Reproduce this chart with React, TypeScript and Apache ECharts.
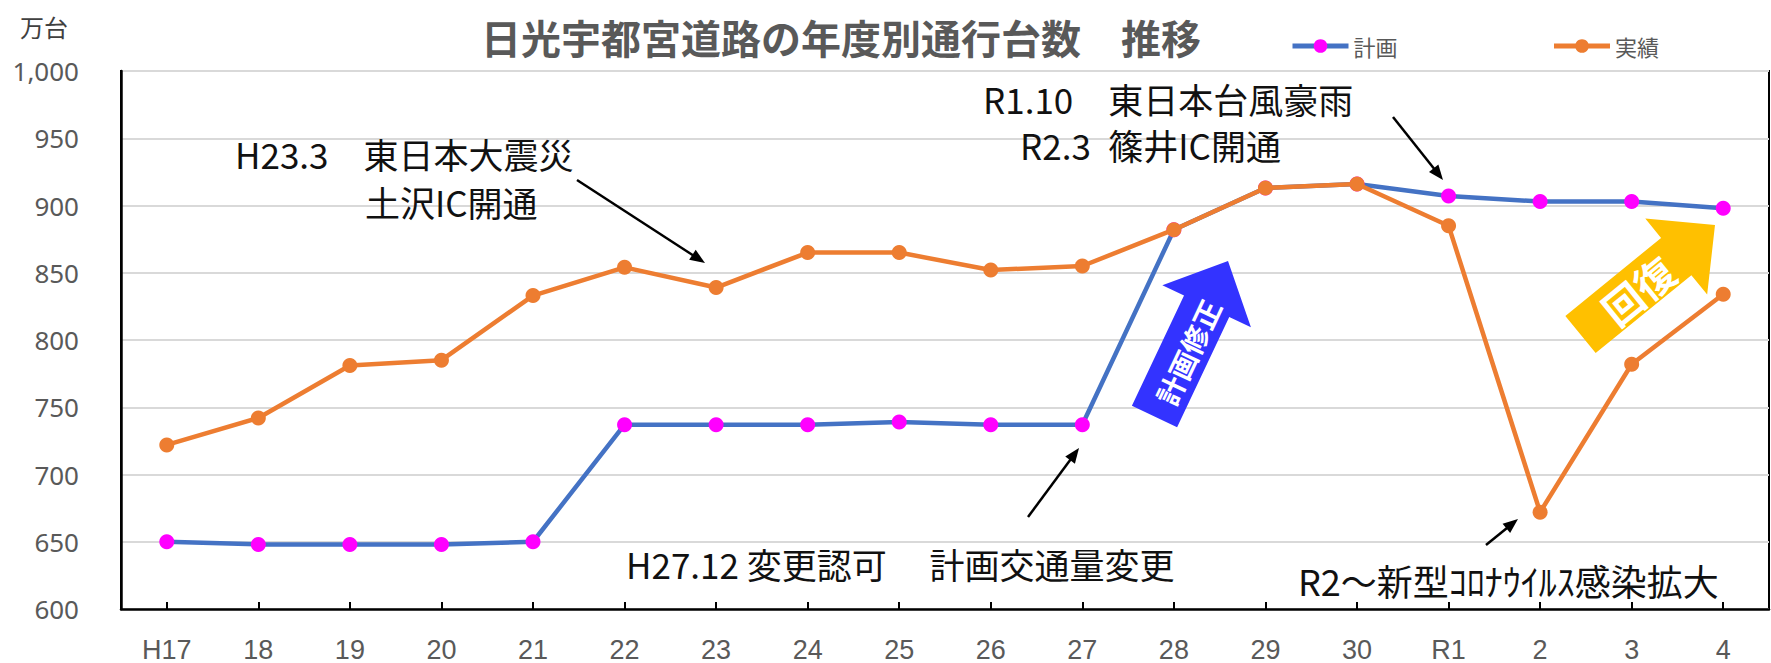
import React, { useEffect, useRef } from "react";
import * as echarts from "echarts";

const categories = ["H17", "18", "19", "20", "21", "22", "23", "24", "25", "26", "27", "28", "29", "30", "R1", "2", "3", "4"];
const planValues = [650, 648, 648, 648, 650, 737, 737, 737, 739, 737, 737, 882, 913, 916, 907, 903, 903, 898];
const actualValues = [722, 742, 781, 785, 833, 854, 839, 865, 865, 852, 855, 882, 913, 916, 885, 672, 782, 834];
const seriesNames = ["計画", "実績"];
const yMin = 600;
const yMax = 1000;
const yInterval = 50;

const W = 1771;
const H = 663;
const CJK = '"Noto Sans CJK JP", "Noto Sans", sans-serif';

function blockArrow(bx: number, by: number, tx: number, ty: number, shaftW: number, headW: number, headL: number) {
  const dx = tx - bx;
  const dy = ty - by;
  const L = Math.sqrt(dx * dx + dy * dy);
  const ux = dx / L;
  const uy = dy / L;
  const nx = -uy;
  const ny = ux;
  const hx = bx + ux * (L - headL);
  const hy = by + uy * (L - headL);
  const s = shaftW / 2;
  const h = headW / 2;
  return [
    [bx - nx * s, by - ny * s],
    [hx - nx * s, hy - ny * s],
    [hx - nx * h, hy - ny * h],
    [tx, ty],
    [hx + nx * h, hy + ny * h],
    [hx + nx * s, hy + ny * s],
    [bx + nx * s, by + ny * s],
  ];
}

function thinArrow(x1: number, y1: number, x2: number, y2: number) {
  const dx = x2 - x1;
  const dy = y2 - y1;
  const L = Math.sqrt(dx * dx + dy * dy);
  const ux = dx / L;
  const uy = dy / L;
  const nx = -uy;
  const ny = ux;
  const hl = 15;
  const hw = 6;
  const bx = x2 - ux * hl;
  const by = y2 - uy * hl;
  return [
    {
      type: "line",
      z: 100,
      shape: { x1, y1, x2: bx + ux * 2, y2: by + uy * 2 },
      style: { stroke: "#000000", lineWidth: 2.5 },
    },
    {
      type: "polygon",
      z: 100,
      shape: { points: [[x2, y2], [bx + nx * hw, by + ny * hw], [bx - nx * hw, by - ny * hw]] },
      style: { fill: "#000000" },
    },
  ];
}

function label(text: string, x: number, y: number, size: number) {
  return {
    type: "text",
    z: 100,
    x,
    y,
    style: {
      text,
      fill: "#111111",
      fontSize: size,
      fontFamily: CJK,
      textAlign: "left",
      verticalAlign: "middle",
    },
  };
}

export default function App() {
  const ref = useRef<HTMLDivElement>(null);
  useEffect(() => {
    document.body.style.margin = "0";
    if (!ref.current) return;
    const chart = echarts.init(ref.current, null, { renderer: "svg" });
    const blue = blockArrow(1154.5, 416.5, 1228, 261, 50, 98, 50);
    const yellow = blockArrow(1580.5, 334.5, 1715, 225, 48, 98, 50);
    const option: any = {
      animation: false,
      backgroundColor: "#ffffff",
      title: {
        text: "日光宇都宮道路の年度別通行台数　推移",
        left: 836,
        textAlign: "center",
        top: 12,
        textStyle: { fontSize: 40, fontWeight: "bold", color: "#595959", fontFamily: CJK },
      },
      legend: {
        data: seriesNames,
        left: 1285,
        top: 30,
        itemWidth: 56,
        itemHeight: 17,
        itemGap: 154,
        lineStyle: { width: 5 },
        textStyle: { fontSize: 22, color: "#595959", fontFamily: CJK },
      },
      grid: {
        left: 121,
        right: 2,
        top: 71,
        bottom: 52,
        show: true,
        borderColor: "#000000",
        borderWidth: 2,
        containLabel: false,
      },
      xAxis: {
        type: "category",
        data: categories,
        boundaryGap: true,
        axisLine: { show: true, lineStyle: { color: "#000000", width: 2.5 } },
        axisTick: { show: true, inside: true, alignWithLabel: true, length: 7, lineStyle: { color: "#000000", width: 2 } },
        axisLabel: {
          margin: 27,
          fontSize: 27,
          color: "#595959",
          fontFamily: '"Liberation Sans Narrow", "Liberation Sans", sans-serif',
        },
        splitLine: { show: false },
      },
      yAxis: {
        type: "value",
        min: yMin,
        max: yMax,
        interval: yInterval,
        axisLine: { show: true, lineStyle: { color: "#000000", width: 2.5 } },
        axisTick: { show: false },
        axisLabel: {
          margin: 42,
          fontSize: 26,
          color: "#595959",
          fontFamily: '"Noto Sans", sans-serif',
          formatter: (v: number) => v.toLocaleString("en-US"),
        },
        splitLine: { show: true, lineStyle: { color: "#D9D9D9", width: 2 } },
      },
      series: [
        {
          name: seriesNames[0],
          type: "line",
          data: planValues,
          symbol: "circle",
          symbolSize: 15,
          lineStyle: { color: "#4472C4", width: 4.5 },
          itemStyle: { color: "#FF00FF" },
          z: 2,
        },
        {
          name: seriesNames[1],
          type: "line",
          data: actualValues,
          symbol: "circle",
          symbolSize: 15,
          lineStyle: { color: "#ED7D31", width: 4.5 },
          itemStyle: { color: "#ED7D31" },
          z: 3,
        },
      ],
      graphic: [
        {
          type: "text",
          x: 20,
          y: 26,
          style: { text: "万台", fill: "#404040", fontSize: 24, fontFamily: CJK, textAlign: "left", verticalAlign: "middle" },
        },
        label("H23.3\u3000東日本大震災", 235, 153, 35),
        label("土沢IC開通", 365, 201, 35),
        label("R1.10\u3000東日本台風豪雨", 983, 98, 35),
        label("R2.3\u2002篠井IC開通", 1020, 144, 35),
        label("H27.12\u00A0変更認可\u3000\u00A0計画交通量変更", 626, 563, 35),
        label("R2～新型ｺﾛﾅｳｲﾙｽ感染拡大", 1298, 580, 36),
        ...thinArrow(577, 180, 705, 263),
        ...thinArrow(1393, 117, 1443, 180),
        ...thinArrow(1028, 517, 1079, 448),
        ...thinArrow(1486, 545, 1518, 519),
        { type: "polygon", z: 90, shape: { points: blue }, style: { fill: "#3333FF" } },
        {
          type: "text",
          z: 95,
          x: 1188,
          y: 352,
          rotation: Math.atan2(155.5, 73.5),
          style: { text: "計画修正", fill: "#ffffff", fontSize: 28, fontWeight: "bold", fontFamily: CJK, textAlign: "center", verticalAlign: "middle" },
        },
        { type: "polygon", z: 90, shape: { points: yellow }, style: { fill: "#FFC000" } },
        {
          type: "text",
          z: 95,
          x: 1638,
          y: 290,
          rotation: Math.atan2(109.5, 134.5),
          style: { text: "回復", fill: "#ffffff", fontSize: 40, fontWeight: "bold", fontFamily: CJK, textAlign: "center", verticalAlign: "middle" },
        },
      ],
    };
    chart.setOption(option);
    return () => chart.dispose();
  }, []);
  return <div ref={ref} style={{ width: W, height: H }} />;
}
